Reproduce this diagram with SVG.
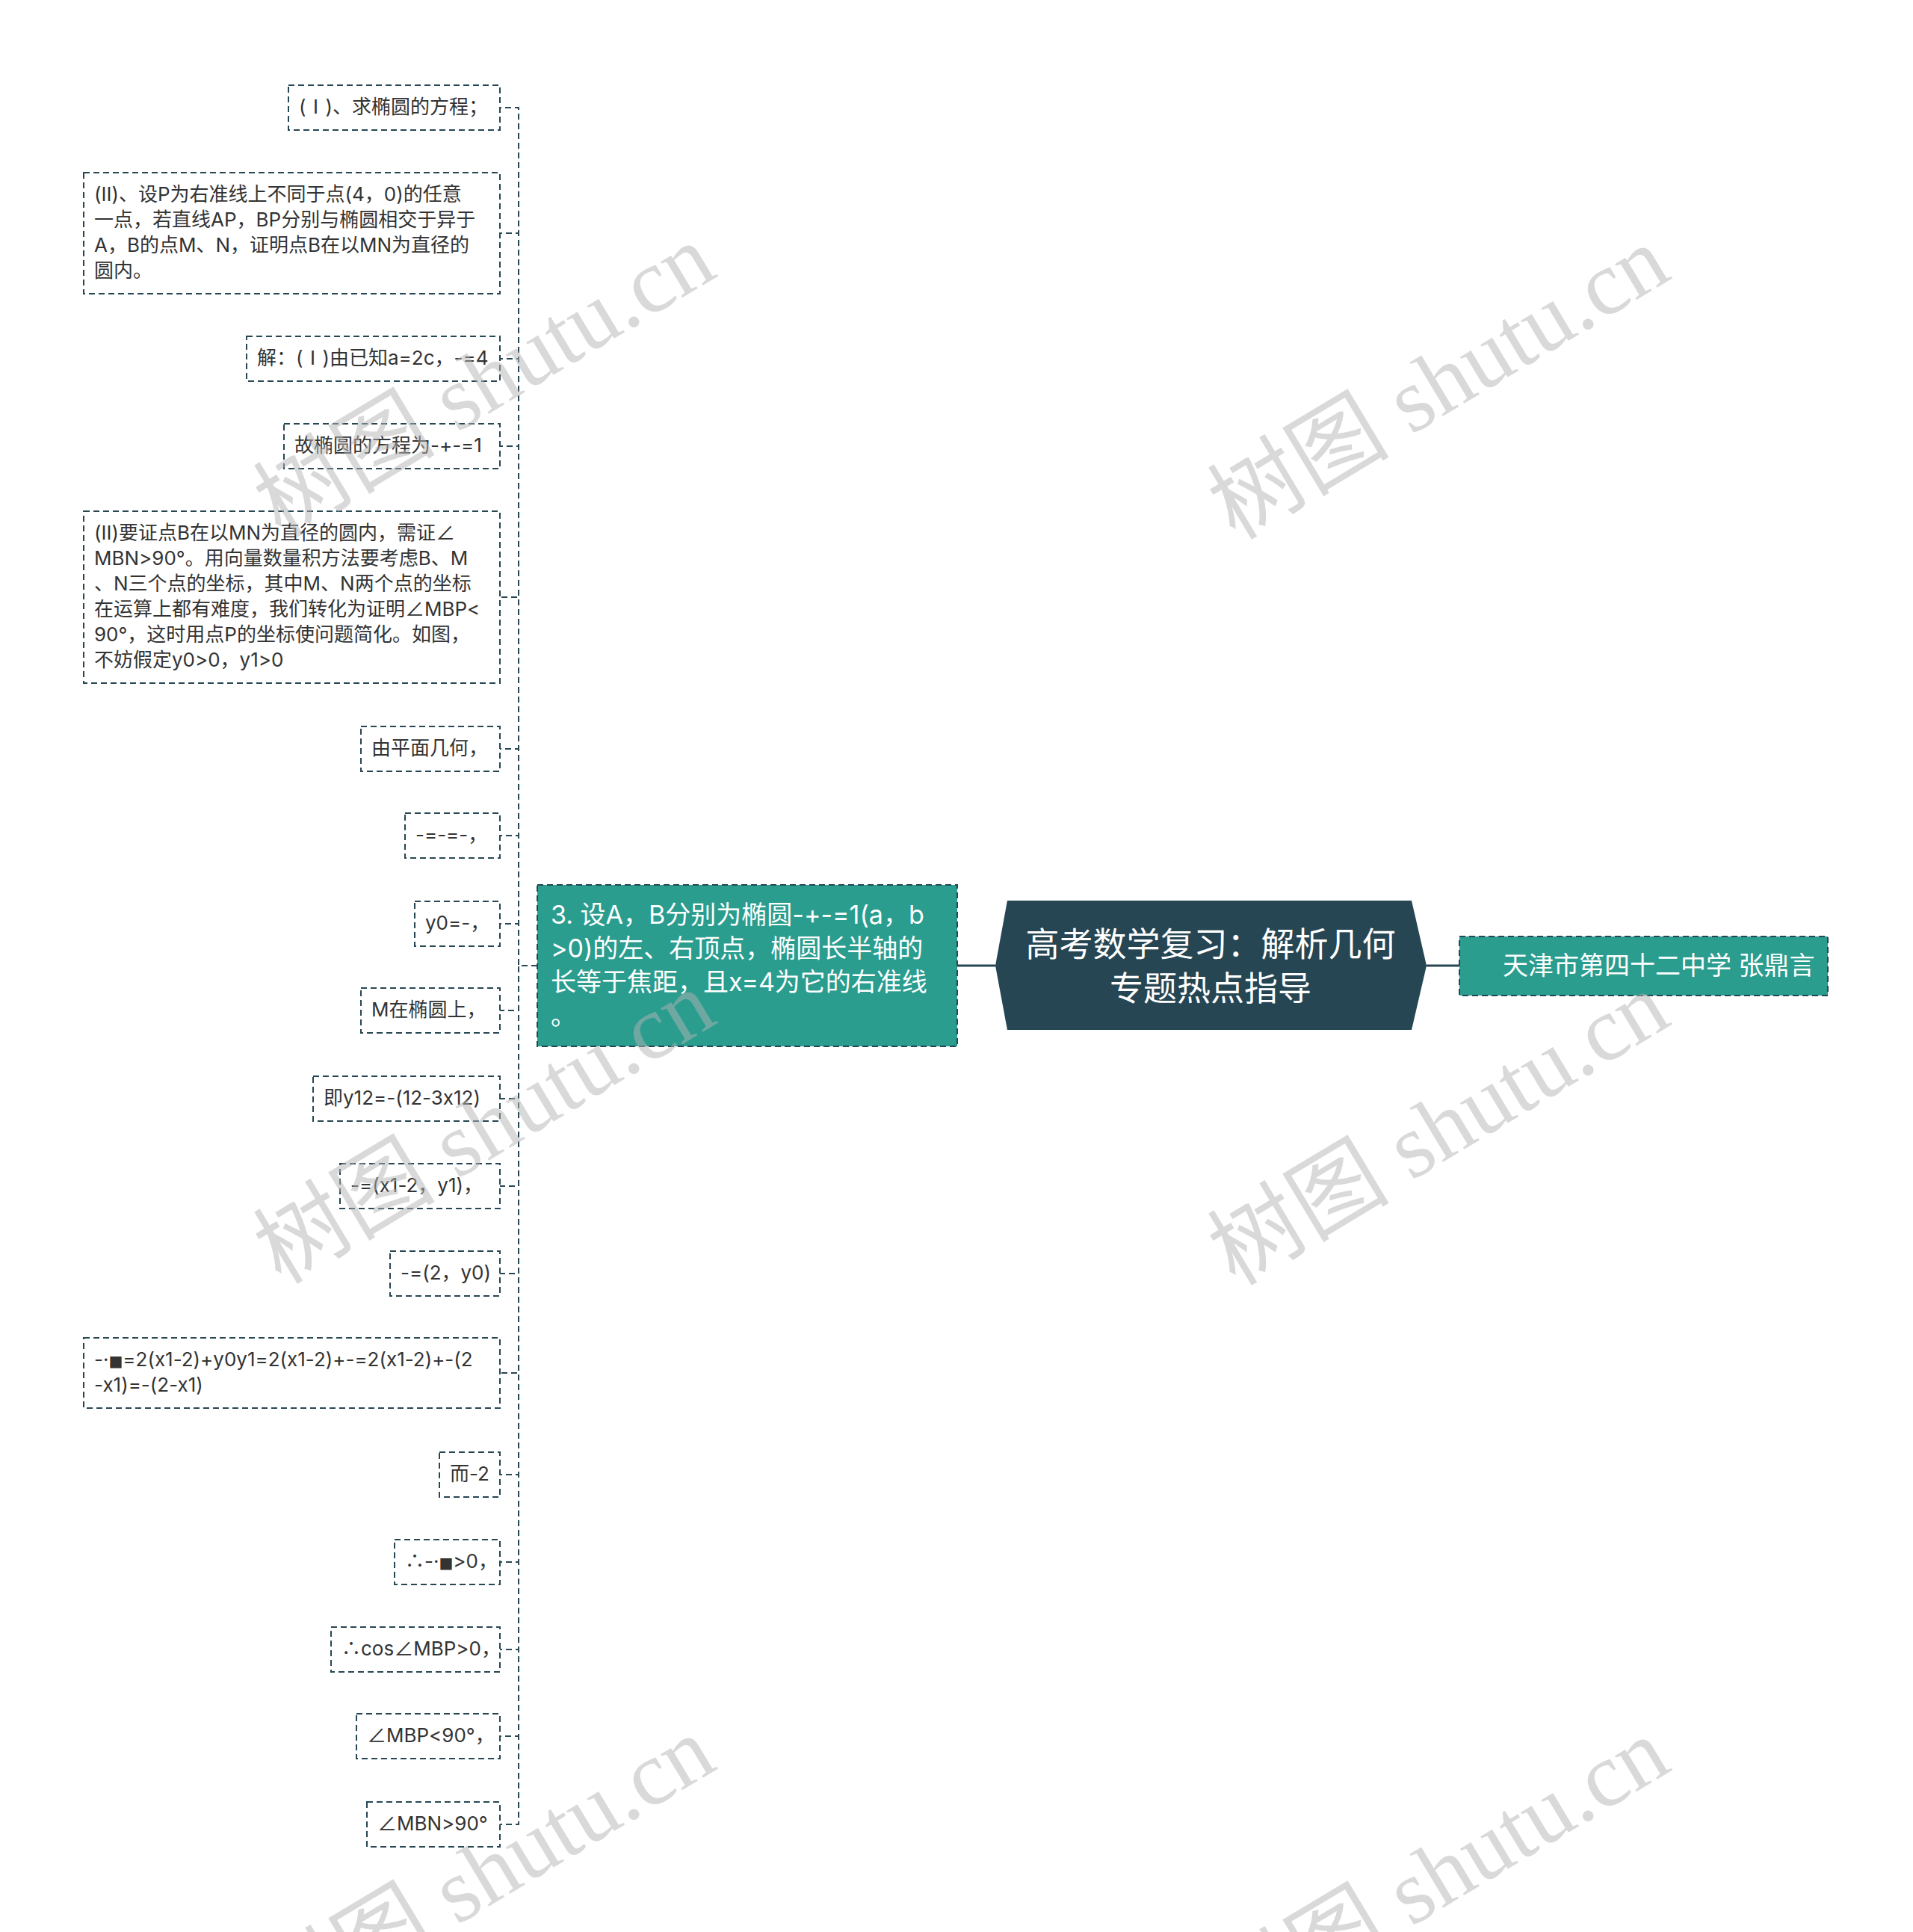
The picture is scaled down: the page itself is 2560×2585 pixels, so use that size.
<svg xmlns="http://www.w3.org/2000/svg" width="2560" height="2585" viewBox="0 0 2560 2585">
<style>
.box{fill:#ffffff;stroke:#264653;stroke-width:2;stroke-dasharray:8 5}
.tbox{fill:#2a9d8f;stroke:#264653;stroke-width:2;stroke-dasharray:8 5}
.t{font-family:Inter,"Noto Sans CJK SC",sans-serif;font-size:26px;fill:#333333;font-feature-settings:"calt" 0,"liga" 0}
.tw{font-family:Inter,"Noto Sans CJK SC",sans-serif;font-size:34px;fill:#ffffff;font-feature-settings:"calt" 0,"liga" 0}
.cjk{font-family:"Noto Sans CJK SC",sans-serif}
.title{font-family:"Noto Sans CJK SC","Noto Sans",sans-serif;font-size:45px;fill:#ffffff;text-anchor:middle}
.sq{font-family:"DejaVu Sans",sans-serif;font-size:20px}
.conn{fill:none;stroke:#264653;stroke-width:2;stroke-dasharray:8 5}
.solid{fill:none;stroke:#264653;stroke-width:3}
.wm{font-family:"Liberation Serif","Noto Sans CJK SC",serif;font-size:122px;fill:#b4b4b4;fill-opacity:0.5;text-anchor:middle;dominant-baseline:central}
</style>
<rect x="0" y="0" width="2560" height="2585" fill="#ffffff"/>
<g id="connectors">
<path class="solid" d="M1281 1292 H1332"/>
<path class="solid" d="M1909 1292 H1953"/>
<path class="conn" d="M719 1292 H694 V144 H669"/>
<path class="conn" d="M719 1292 H694 V312 H669"/>
<path class="conn" d="M719 1292 H694 V480 H669"/>
<path class="conn" d="M719 1292 H694 V597 H669"/>
<path class="conn" d="M719 1292 H694 V799 H669"/>
<path class="conn" d="M719 1292 H694 V1002 H669"/>
<path class="conn" d="M719 1292 H694 V1118 H669"/>
<path class="conn" d="M719 1292 H694 V1236 H669"/>
<path class="conn" d="M719 1292 H694 V1352 H669"/>
<path class="conn" d="M719 1292 H694 V1470 H669"/>
<path class="conn" d="M719 1292 H694 V1587 H669"/>
<path class="conn" d="M719 1292 H694 V1704 H669"/>
<path class="conn" d="M719 1292 H694 V1837 H669"/>
<path class="conn" d="M719 1292 H694 V1973 H669"/>
<path class="conn" d="M719 1292 H694 V2090 H669"/>
<path class="conn" d="M719 1292 H694 V2207 H669"/>
<path class="conn" d="M719 1292 H694 V2323 H669"/>
<path class="conn" d="M719 1292 H694 V2441 H669"/>
</g>
<g id="root">
<polygon points="1348,1205 1889,1205 1909,1292 1889,1378 1348,1378 1332,1292" fill="#264653"/>
<text class="title" x="1620" y="1280">高考数学复习：解析几何</text>
<text class="title" x="1620" y="1339">专题热点指导</text>
</g>
<g id="author">
<rect class="tbox" x="1953" y="1253" width="493" height="79"/>
<text class="tw" x="2011" y="1304">天津市第四十二中学 张鼎言</text>
</g>
<g id="q3">
<rect class="tbox" x="719" y="1184" width="562" height="216"/>
<text class="tw" x="737" y="1236">3. 设A，B分别为椭圆-+-=1(a，b</text>
<text class="tw" x="737" y="1281">&gt;0)的左、右顶点，椭圆长半轴的</text>
<text class="tw" x="737" y="1326">长等于焦距，且x=4为它的右准线</text>
<text class="tw" x="737" y="1371">。</text>
</g>
<g id="n1"><rect class="box" x="386" y="114" width="283" height="60"/><text class="t" x="400" y="152">(<tspan class="cjk">Ⅰ</tspan>)、求椭圆的方程；</text></g>
<g id="n2"><rect class="box" x="112" y="231" width="557" height="162"/>
<text class="t" x="126" y="269">(Ⅱ)、设P为右准线上不同于点(4，0)的任意</text>
<text class="t" x="126" y="303">一点，若直线AP，BP分别与椭圆相交于异于</text>
<text class="t" x="126" y="337">A，B的点M、N，证明点B在以MN为直径的</text>
<text class="t" x="126" y="371">圆内。</text></g>
<g id="n3"><rect class="box" x="330" y="450" width="339" height="60"/><text class="t" x="344" y="488">解：(<tspan class="cjk">Ⅰ</tspan>)由已知a=2c，-=4</text></g>
<g id="n4"><rect class="box" x="380" y="567" width="289" height="60"/><text class="t" x="394" y="605">故椭圆的方程为-+-=1</text></g>
<g id="n5"><rect class="box" x="112" y="684" width="557" height="230"/>
<text class="t" x="126" y="722">(Ⅱ)要证点B在以MN为直径的圆内，需证∠</text>
<text class="t" x="126" y="756">MBN&gt;90°。用向量数量积方法要考虑B、M</text>
<text class="t" x="126" y="790">、N三个点的坐标，其中M、N两个点的坐标</text>
<text class="t" x="126" y="824">在运算上都有难度，我们转化为证明∠MBP&lt;</text>
<text class="t" x="126" y="858">90°，这时用点P的坐标使问题简化。如图，</text>
<text class="t" x="126" y="892">不妨假定y0&gt;0，y1&gt;0</text></g>
<g id="n6"><rect class="box" x="483" y="972" width="186" height="60"/><text class="t" x="497" y="1010">由平面几何，</text></g>
<g id="n7"><rect class="box" x="542" y="1088" width="127" height="60"/><text class="t" x="556" y="1126">-=-=-，</text></g>
<g id="n8"><rect class="box" x="555" y="1206" width="114" height="60"/><text class="t" x="569" y="1244">y0=-，</text></g>
<g id="n9"><rect class="box" x="483" y="1322" width="186" height="60"/><text class="t" x="497" y="1360">M在椭圆上，</text></g>
<g id="n10"><rect class="box" x="419" y="1440" width="250" height="60"/><text class="t" x="433" y="1478">即y12=-(12-3x12)</text></g>
<g id="n11"><rect class="box" x="455" y="1557" width="214" height="60"/><text class="t" x="469" y="1595">-=(x1-2，y1)，</text></g>
<g id="n12"><rect class="box" x="522" y="1674" width="147" height="60"/><text class="t" x="536" y="1712">-=(2，y0)</text></g>
<g id="n13"><rect class="box" x="112" y="1790" width="557" height="94"/>
<text class="t" x="126" y="1828">-·<tspan class="sq">■</tspan>=2(x1-2)+y0y1=2(x1-2)+-=2(x1-2)+-(2</text>
<text class="t" x="126" y="1862">-x1)=-(2-x1)</text></g>
<g id="n14"><rect class="box" x="588" y="1943" width="81" height="60"/><text class="t" x="602" y="1981">而-2</text></g>
<g id="n15"><rect class="box" x="528" y="2060" width="141" height="60"/><text class="t" x="542" y="2098">∴-·<tspan class="sq">■</tspan>&gt;0，</text></g>
<g id="n16"><rect class="box" x="443" y="2177" width="226" height="60"/><text class="t" x="457" y="2215">∴cos∠MBP&gt;0，</text></g>
<g id="n17"><rect class="box" x="477" y="2293" width="192" height="60"/><text class="t" x="491" y="2331">∠MBP&lt;90°，</text></g>
<g id="n18"><rect class="box" x="491" y="2411" width="178" height="60"/><text class="t" x="505" y="2449">∠MBN&gt;90°</text></g>
<g id="watermark">
<text class="wm" transform="translate(648 509) rotate(-31)">树图 shutu.cn</text>
<text class="wm" transform="translate(1925 512) rotate(-31)">树图 shutu.cn</text>
<text class="wm" transform="translate(648 1508) rotate(-31)">树图 shutu.cn</text>
<text class="wm" transform="translate(1925 1510) rotate(-31)">树图 shutu.cn</text>
<text class="wm" transform="translate(648 2506) rotate(-31)">树图 shutu.cn</text>
<text class="wm" transform="translate(1925 2508) rotate(-31)">树图 shutu.cn</text>
</g>
</svg>
